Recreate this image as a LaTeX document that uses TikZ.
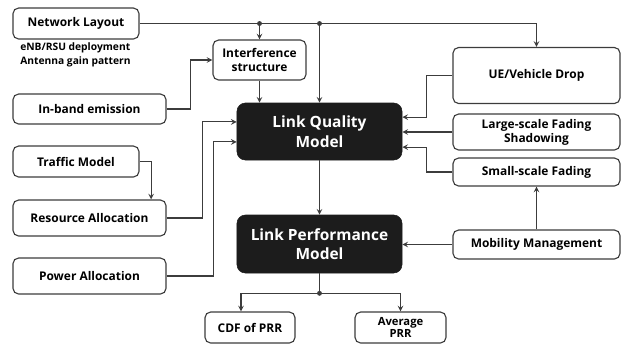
\documentclass[tikz,border=0pt]{standalone}
\usepackage{fontspec}
\setmainfont{Open Sans}
\usetikzlibrary{arrows, positioning}
\definecolor{lineg}{RGB}{60,60,60}
\definecolor{boxk}{RGB}{28,28,28}

\begin{document}
\begin{tikzpicture}[
    x=0.025cm, y=-0.025cm,
    wbox/.style={rectangle, rounded corners=4pt, draw=lineg, fill=white, line width=0.8pt, inner sep=0pt, align=center, font=\fontsize{8.5}{10}\selectfont\bfseries},
    kbox/.style={rectangle, rounded corners=6pt, draw=boxk, fill=boxk, text=white, inner sep=0pt, align=center, font=\fontsize{11}{14}\selectfont\bfseries},
    arr/.style={->, >=stealth, line width=0.8pt, color=lineg},
    jdot/.style={circle, fill=lineg, inner sep=0pt, minimum size=3.5pt}
]
\useasboundingbox (0,0) rectangle (624,345);

% left column
\node[wbox, minimum width=3.15cm, minimum height=0.775cm] (net) at (76,23.5) {Network Layout};
\node[anchor=west, align=left, inner sep=0pt, font=\fontsize{7.3}{9.5}\selectfont\bfseries] (netinfo) at (20,55) {eNB/RSU deployment\\Antenna gain pattern};
\node[wbox, minimum width=3.825cm, minimum height=0.75cm] (inband) at (89.5,109) {In-band emission};
\node[wbox, minimum width=3.15cm, minimum height=0.775cm] (traffic) at (76,161.5) {Traffic Model};
\node[wbox, minimum width=3.825cm, minimum height=0.9cm] (res) at (89.5,218) {Resource Allocation};
\node[wbox, minimum width=3.825cm, minimum height=0.9cm] (power) at (89.5,276) {Power Allocation};

% middle
\node[wbox, minimum width=2.325cm, minimum height=1.0cm] (inter) at (259.5,60) {Interference\\structure};
\node[kbox, minimum width=4.125cm, minimum height=1.425cm] (lq) at (319.5,131.5) {Link Quality\\Model};
\node[kbox, minimum width=4.125cm, minimum height=1.45cm] (lp) at (319.5,244) {Link Performance\\Model};
\node[wbox, minimum width=2.25cm, minimum height=0.775cm] (cdf) at (250,327.5) {CDF of PRR};
\node[wbox, minimum width=2.275cm, minimum height=0.775cm, font=\fontsize{8}{9}\selectfont\bfseries] (avg) at (400.5,327.5) {Average\\PRR};

% right column
\node[wbox, minimum width=4.175cm, minimum height=1.4cm] (ue) at (536.5,75.5) {UE/Vehicle Drop};
\node[wbox, minimum width=4.175cm, minimum height=0.9cm] (large) at (536.5,132) {Large-scale Fading\\Shadowing};
\node[wbox, minimum width=4.175cm, minimum height=0.7cm] (small) at (536.5,172) {Small-scale Fading};
\node[wbox, minimum width=4.175cm, minimum height=0.725cm] (mob) at (536.5,244.5) {Mobility Management};

% network layout bus
\draw[arr] (net.east) -- (ue.north |- net.east) -- (ue.north);
\node[jdot] (j1) at (inter.north |- net.east) {};
\node[jdot] (j2) at (lq.north |- net.east) {};
\draw[arr] (j1) -- (inter.north);
\draw[arr] (j2) -- (lq.north);
\draw[arr] (inter.south) -- (inter.south |- lq.north);
\draw[arr] (inband.east) -- ++(24,0) |- (inter.west);

% inputs from the left
\draw[arr] (traffic.east) -| ([xshift=1.54cm]res.north);
\draw[arr] (res.east) -- ++(36,0) |- ([yshift=0.24cm]lq.west);
\draw[arr] (power.east) -- ++(47,0) |- ([yshift=-0.26cm]lq.west);

% inputs from the right
\draw[arr] (ue.west) -- ++(-26,0) |- ([yshift=0.36cm]lq.east);
\draw[arr] (large.west) -- (large.west -| lq.east);
\draw[arr] (small.west) -- ++(-26,0) |- ([yshift=-0.39cm]lq.east);
\draw[arr] (mob.north) -- (small.south);
\draw[arr] (mob.west) -- (mob.west -| lp.east);

% performance chain
\draw[arr] (lq.south) -- (lp.north);
\draw[line width=0.8pt, color=lineg] (lp.south) -- ++(0,20) coordinate (split);
\node[jdot] (j3) at (split) {};
\draw[arr] (j3) -| ([xshift=-0.225cm]cdf.north);
\draw[arr] (j3) -| (avg.north);

\end{tikzpicture}
\end{document}
